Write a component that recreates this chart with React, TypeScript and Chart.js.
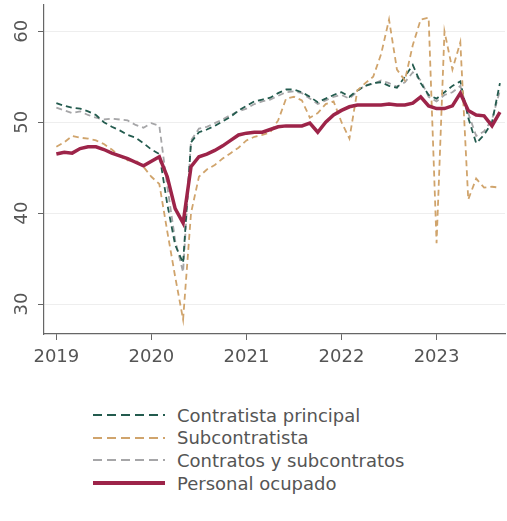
import React, { useEffect, useRef } from "react";
import { Chart, registerables } from "chart.js";

Chart.register(...registerables);

const periods: string[] = [
  "2019-01","2019-02","2019-03","2019-04","2019-05","2019-06","2019-07","2019-08","2019-09","2019-10","2019-11","2019-12",
  "2020-01","2020-02","2020-03","2020-04","2020-05","2020-06","2020-07","2020-08","2020-09","2020-10","2020-11","2020-12",
  "2021-01","2021-02","2021-03","2021-04","2021-05","2021-06","2021-07","2021-08","2021-09","2021-10","2021-11","2021-12",
  "2022-01","2022-02","2022-03","2022-04","2022-05","2022-06","2022-07","2022-08","2022-09","2022-10","2022-11","2022-12",
  "2023-01","2023-02","2023-03","2023-04","2023-05","2023-06","2023-07","2023-08","2023-09",
];

const contratistaPrincipal: number[] = [
  52.1, 51.8, 51.6, 51.5, 51.2, 50.8, 50.0, 49.5, 49.1, 48.6, 48.3, 47.7,
  47.0, 46.5, 41.0, 36.5, 34.5, 47.8, 48.9, 49.2, 49.6, 50.1, 50.6, 51.3,
  51.8, 52.3, 52.5, 52.7, 53.2, 53.6, 53.6, 53.3, 52.8, 52.2, 52.6, 53.0,
  53.3, 52.8, 53.5, 54.0, 54.3, 54.4, 54.0, 53.8, 55.0, 56.3, 54.3, 53.0,
  52.6, 53.3, 54.0, 54.5, 50.5, 47.7, 48.6, 50.0, 54.3,
];

const subcontratista: number[] = [
  47.3, 47.8, 48.5, 48.3, 48.2, 48.0, 47.6, 47.0, 46.3, 45.8, 45.8, 45.1,
  44.0, 43.2, 38.0, 33.0, 28.3, 40.0, 44.0, 44.8, 45.3, 46.0, 46.6, 47.2,
  48.0, 48.4, 48.6, 48.9, 50.2, 52.6, 52.8, 52.4, 50.5, 51.0, 52.0, 52.3,
  50.0, 48.2, 53.5, 54.3, 55.0, 57.5, 61.3, 55.8, 54.6, 58.5, 61.3, 61.5,
  36.7, 60.0, 55.8, 58.8, 41.5, 43.8, 42.8, 42.9, 42.8,
];

const contratosYSubcontratos: number[] = [
  51.6, 51.3, 51.0, 51.2, 50.8, 50.5, 50.3, 50.4, 50.3, 50.2, 49.7, 49.4,
  49.9, 49.6, 43.0, 37.0, 33.5, 48.0, 49.3, 49.5, 49.9, 50.3, 50.8, 51.2,
  51.5, 52.0, 52.3, 52.5, 52.9, 53.3, 53.4, 53.2, 52.6, 52.0, 52.4, 52.8,
  53.0, 52.6, 53.4, 54.1, 54.2, 54.6, 54.3, 53.9, 54.4, 55.5, 54.6, 52.8,
  52.3, 53.0, 53.3, 54.0, 51.0, 48.5, 49.0, 50.3, 53.5,
];

const personalOcupado: number[] = [
  46.5, 46.7, 46.6, 47.1, 47.3, 47.3, 47.0, 46.6, 46.3, 46.0, 45.6, 45.2,
  45.7, 46.2, 44.0, 40.5, 38.9, 45.1, 46.2, 46.5, 46.9, 47.4, 48.0, 48.6,
  48.8, 48.9, 48.9, 49.2, 49.5, 49.6, 49.6, 49.6, 49.9, 48.9, 50.0, 50.8,
  51.3, 51.7, 51.9, 51.9, 51.9, 51.9, 52.0, 51.9, 51.9, 52.1, 52.8, 51.8,
  51.5, 51.5, 51.8, 53.2, 51.3, 50.8, 50.7, 49.6, 51.1,
];

const yearTicks: number[] = [2019, 2020, 2021, 2022, 2023];
const valueTicks: number[] = [30, 40, 50, 60];

const seriesNames: string[] = [
  "Contratista principal",
  "Subcontratista",
  "Contratos y subcontratos",
  "Personal ocupado",
];
const seriesColors: string[] = ["#235B4E", "#D0A46C", "#A6A6A8", "#9D2449"];

const FONT = "'DejaVu Sans', sans-serif";
const TEXT = "#555555";

function toX(p: string): number {
  const [y, m] = p.split("-").map(Number);
  return y + (m - 1) / 12;
}

function points(vals: number[]) {
  return vals.map((v, i) => ({ x: toX(periods[i]), y: v }));
}

export default function App() {
  const ref = useRef<HTMLCanvasElement | null>(null);

  useEffect(() => {
    if (!ref.current) return;
    const seriesVals = [contratistaPrincipal, subcontratista, contratosYSubcontratos, personalOcupado];
    const datasets = seriesVals.map((vals, k) => ({
      label: seriesNames[k],
      data: points(vals),
      borderColor: seriesColors[k],
      backgroundColor: seriesColors[k],
      borderWidth: k === 3 ? 3.5 : 1.8,
      borderDash: k === 3 ? [] : [6, 4],
      pointRadius: 0,
      tension: 0,
      fill: false,
      order: k === 3 ? 0 : k === 1 ? 1 : k === 0 ? 2 : 3,
    }));
    const chart = new Chart(ref.current, {
      type: "line",
      data: { datasets },
      options: {
        animation: false,
        responsive: false,
        maintainAspectRatio: false,
        layout: { padding: { top: 5, right: 2, left: 0, bottom: 0 } },
        plugins: { legend: { display: false }, tooltip: { enabled: false } },
        scales: {
          x: {
            type: "linear",
            min: 2018.87,
            max: 2023.72,
            afterBuildTicks: (s: any) => {
              s.ticks = yearTicks.map((v) => ({ value: v }));
            },
            afterFit: (s: any) => {
              s.height = 46;
              s.paddingLeft = 0;
              s.paddingRight = 0;
            },
            ticks: {
              color: TEXT,
              font: { family: FONT, size: 18 },
              padding: 7,
              maxRotation: 0,
              callback: (v: any) => String(v),
            },
            grid: { display: true, drawOnChartArea: false, color: "#666", tickLength: 6 },
            border: { display: true, color: "#666", width: 1.2 },
          },
          y: {
            type: "linear",
            min: 26.7,
            max: 62.9,
            afterBuildTicks: (s: any) => {
              s.ticks = valueTicks.map((v) => ({ value: v }));
            },
            afterFit: (s: any) => {
              s.width = 44;
              s.paddingTop = 0;
              s.paddingBottom = 0;
            },
            ticks: {
              color: TEXT,
              font: { family: FONT, size: 18 },
              minRotation: 90,
              maxRotation: 90,
              crossAlign: "center",
              padding: 4,
              callback: (v: any) => String(v),
            },
            grid: { color: "#eeeeee", tickColor: "#666", tickLength: 6, lineWidth: 1 },
            border: { display: true, color: "#666", width: 1.2 },
          },
        },
      },
    });
    return () => chart.destroy();
  }, []);

  const rowTop = 404;
  const rowGap = 22.7;

  return (
    <div style={{ position: "absolute", left: 0, top: 0, width: 507, height: 521, background: "#fff" }}>
      <canvas ref={ref} width={507} height={380} style={{ position: "absolute", left: 0, top: 0, width: 507, height: 380 }} />
      {seriesNames.map((name, k) => (
        <div
          key={name}
          style={{
            position: "absolute",
            left: 93,
            top: rowTop + k * rowGap,
            height: 22,
            display: "flex",
            alignItems: "center",
            fontFamily: FONT,
            fontSize: 18,
            color: TEXT,
            whiteSpace: "nowrap",
          }}
        >
          <svg width={72} height={8} style={{ marginRight: 12 }}>
            <line
              x1={0}
              y1={4}
              x2={72}
              y2={4}
              stroke={seriesColors[k]}
              strokeWidth={k === 3 ? 4 : 2}
              strokeDasharray={k === 3 ? undefined : "9 5"}
            />
          </svg>
          <span>{name}</span>
        </div>
      ))}
    </div>
  );
}
